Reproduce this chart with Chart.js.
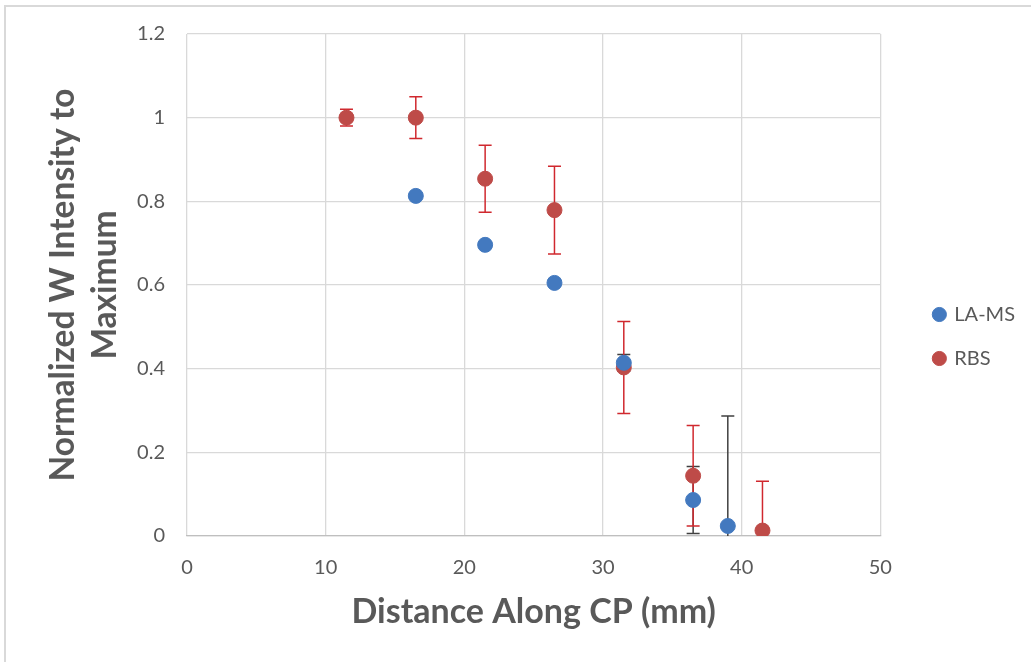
<!DOCTYPE html>
<html>
<head>
<meta charset="utf-8">
<script src="https://cdn.jsdelivr.net/npm/chart.js@4/dist/chart.umd.min.js"></script>
<style>
  html, body { margin: 0; padding: 0; background: #fff; }
  #wrap { position: relative; width: 1031px; height: 662px; }
  #frame { position: absolute; left: 4px; top: 5px; right: 0; bottom: 0;
           border-top: 2px solid #d9d9d9; border-left: 2px solid #d9d9d9; pointer-events: none; }
  canvas { position: absolute; left: 0; top: 0; }
</style>
</head>
<body>
<div id="wrap">
  <canvas id="chart" width="1031" height="662"></canvas>
  <div id="frame"></div>
</div>
<script>
// LA-MS measurements
const laX = [16.5, 21.5, 26.5, 31.5, 36.5, 39];
const laY = [0.813, 0.696, 0.605, 0.414, 0.086, 0.024];
const laErr = [0.004, 0.006, 0.008, 0.02, 0.08, 0.263];

// RBS measurements
const rbsX = [11.5, 16.5, 21.5, 26.5, 31.5, 36.5, 41.5];
const rbsY = [1.0, 1.0, 0.854, 0.779, 0.403, 0.144, 0.013];
const rbsErr = [0.02, 0.05, 0.08, 0.105, 0.11, 0.12, 0.118];

const FONT = 'Lato, "Open Sans", sans-serif';
const GREY = '#595959';

function toPoints(xs, ys, errs) {
    return xs.map((x, i) => ({ x: x, y: ys[i], err: errs[i] }));
}

// vertical error bars, drawn under the markers
const errorBars = {
    id: 'errorBars',
    beforeDatasetsDraw(chart) {
        const ctx = chart.ctx;
        const xs = chart.scales.x, ys = chart.scales.y;
        const area = chart.chartArea;
        ctx.save();
        ctx.beginPath();
        ctx.rect(area.left, area.top - 10, area.right - area.left, area.bottom - area.top + 10);
        ctx.clip();
        chart.data.datasets.forEach(ds => {
            ctx.strokeStyle = ds.errorColor;
            ctx.lineWidth = 1.5;
            ds.data.forEach(p => {
                const px = xs.getPixelForValue(p.x);
                const top = ys.getPixelForValue(p.y + p.err);
                const bot = ys.getPixelForValue(p.y - p.err);
                ctx.beginPath();
                ctx.moveTo(px, top); ctx.lineTo(px, bot);
                ctx.moveTo(px - 6.5, top); ctx.lineTo(px + 6.5, top);
                if (p.y - p.err >= 0) { ctx.moveTo(px - 6.5, bot); ctx.lineTo(px + 6.5, bot); }
                ctx.stroke();
            });
        });
        ctx.restore();
    }
};

// push the legend a bit further right / down from the plot
const legendOffset = {
    id: 'legendOffset',
    afterLayout(chart) {
        const lg = chart.legend;
        lg.left += 30; lg.right += 30;
        lg.top += 7; lg.bottom += 7;
    }
};

new Chart(document.getElementById('chart'), {
    type: 'scatter',
    data: {
        datasets: [{
            label: 'LA-MS',
            data: toPoints(laX, laY, laErr),
            backgroundColor: '#4379bf',
            borderColor: '#4379bf',
            errorColor: '#404040',
            pointRadius: 7.5,
            pointHoverRadius: 7.5
        }, {
            label: 'RBS',
            data: toPoints(rbsX, rbsY, rbsErr),
            backgroundColor: '#be4b48',
            borderColor: '#be4b48',
            errorColor: '#d0282e',
            pointRadius: 7.5,
            pointHoverRadius: 7.5
        }]
    },
    options: {
        responsive: false,
        animation: false,
        layout: { padding: { left: 42, top: 27, right: 36, bottom: 30 } },
        plugins: {
            legend: {
                position: 'right',
                labels: {
                    usePointStyle: true,
                    pointStyle: 'circle',
                    boxWidth: 10,
                    boxHeight: 10,
                    padding: 24,
                    color: GREY,
                    font: { family: FONT, size: 20 }
                }
            },
            tooltip: { enabled: false }
        },
        scales: {
            x: {
                min: 0, max: 50,
                ticks: { stepSize: 10, color: GREY, font: { family: FONT, size: 20 }, padding: 20 },
                grid: { color: '#d9d9d9', lineWidth: 1.3, drawTicks: false },
                border: { display: true, color: '#bfbfbf', width: 1.3 },
                title: {
                    display: true, text: 'Distance Along CP (mm)', color: GREY,
                    font: { family: FONT, size: 34, weight: 'bold', lineHeight: 1.2 }, padding: { top: 0, bottom: 0 }
                },
                afterFit(scale) { scale.height = 96; }
            },
            y: {
                min: 0, max: 1.2,
                ticks: {
                    stepSize: 0.2, color: GREY, font: { family: FONT, size: 20 }, padding: 22,
                    callback: v => String(Math.round(v * 10) / 10)
                },
                grid: { color: '#d9d9d9', lineWidth: 1.3, drawTicks: false },
                border: { display: false },
                title: {
                    display: true, text: ['Normalized W Intensity to', 'Maximum'], color: GREY,
                    font: { family: FONT, size: 33.5, weight: 'bold', lineHeight: 42 / 33.5 }, padding: { top: 0, bottom: 0 }
                },
                afterFit(scale) { scale.width = 145; }
            }
        }
    },
    plugins: [errorBars, legendOffset]
});
</script>
</body>
</html>
